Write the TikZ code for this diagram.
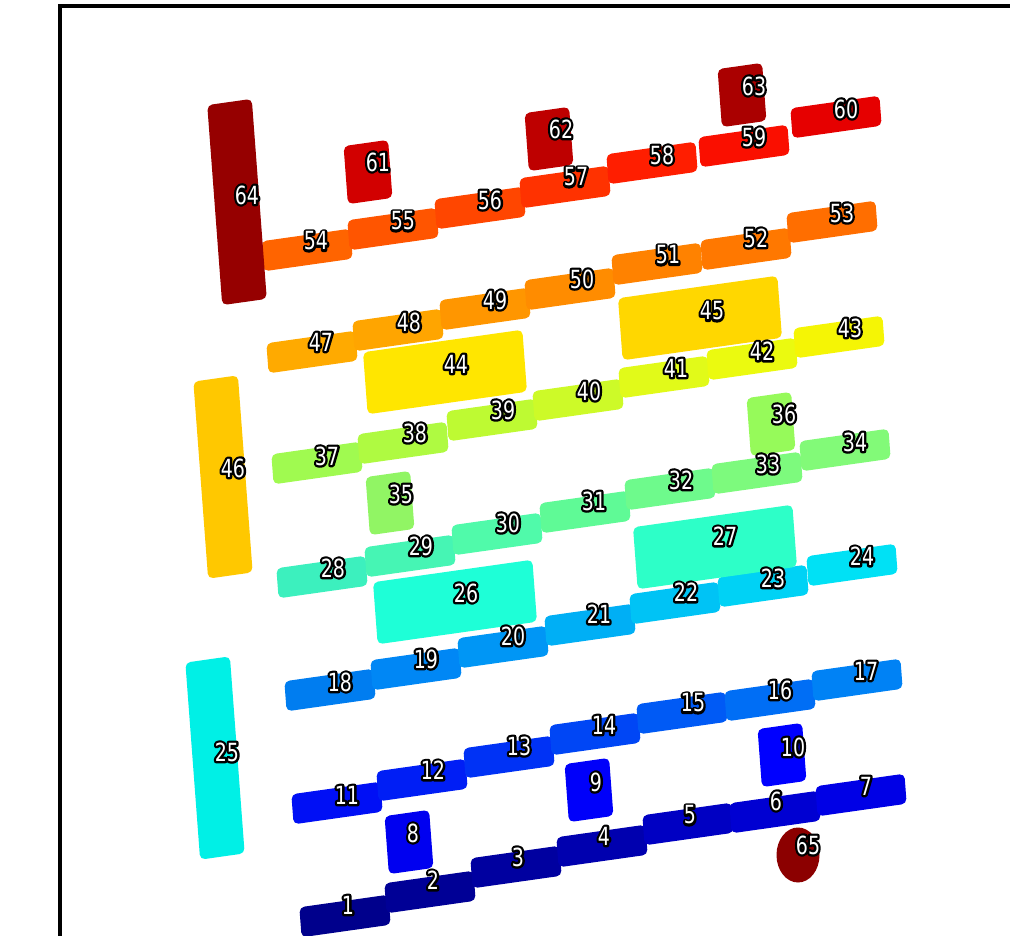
\documentclass[tikz,border=0pt]{standalone}
\usepackage{fontspec}
\usepackage{tikz}
\usetikzlibrary{shapes.geometric}
\newfontfamily\numfont[FakeStretch=0.76]{DejaVu Sans}
% black outline (stroked pass) under the white digits
\newcommand{\nr}[1]{\rlap{\special{pdf:literal direct 0 0 0 RG 4.6 w 1 j 1 Tr}#1\special{pdf:literal direct 0 Tr}}#1}

% jet-like fills, one per block
\definecolor{c1}{RGB}{0,0,140}   \definecolor{c2}{RGB}{0,0,150}   \definecolor{c3}{RGB}{0,0,160}
\definecolor{c4}{RGB}{0,0,175}   \definecolor{c5}{RGB}{0,0,195}   \definecolor{c6}{RGB}{0,0,210}
\definecolor{c7}{RGB}{0,0,230}   \definecolor{c8}{RGB}{0,0,240}   \definecolor{c9}{RGB}{0,0,250}
\definecolor{c10}{RGB}{0,0,255}  \definecolor{c11}{RGB}{0,15,245} \definecolor{c12}{RGB}{0,30,245}
\definecolor{c13}{RGB}{0,50,245} \definecolor{c14}{RGB}{0,70,245} \definecolor{c15}{RGB}{0,90,245}
\definecolor{c16}{RGB}{0,110,245} \definecolor{c17}{RGB}{0,130,245} \definecolor{c18}{RGB}{0,125,240}
\definecolor{c19}{RGB}{0,135,245} \definecolor{c20}{RGB}{0,150,245} \definecolor{c21}{RGB}{0,175,245}
\definecolor{c22}{RGB}{0,195,245} \definecolor{c23}{RGB}{0,210,245} \definecolor{c24}{RGB}{0,225,245}
\definecolor{c25}{RGB}{0,240,230} \definecolor{c26}{RGB}{30,255,215} \definecolor{c27}{RGB}{45,255,200}
\definecolor{c28}{RGB}{60,240,190} \definecolor{c29}{RGB}{70,245,180} \definecolor{c30}{RGB}{80,250,170}
\definecolor{c31}{RGB}{95,250,150} \definecolor{c32}{RGB}{110,250,140} \definecolor{c33}{RGB}{125,250,125}
\definecolor{c34}{RGB}{130,250,120} \definecolor{c35}{RGB}{145,245,100} \definecolor{c36}{RGB}{150,250,90}
\definecolor{c37}{RGB}{160,250,80} \definecolor{c38}{RGB}{175,250,65} \definecolor{c39}{RGB}{190,250,50}
\definecolor{c40}{RGB}{205,250,40} \definecolor{c41}{RGB}{225,250,25} \definecolor{c42}{RGB}{235,250,15}
\definecolor{c43}{RGB}{245,245,5} \definecolor{c44}{RGB}{255,230,0} \definecolor{c45}{RGB}{255,215,0}
\definecolor{c46}{RGB}{255,200,0} \definecolor{c47}{RGB}{255,170,0} \definecolor{c48}{RGB}{255,165,0}
\definecolor{c49}{RGB}{255,150,0} \definecolor{c50}{RGB}{255,140,0} \definecolor{c51}{RGB}{255,130,0}
\definecolor{c52}{RGB}{255,120,0} \definecolor{c53}{RGB}{255,110,0} \definecolor{c54}{RGB}{255,100,0}
\definecolor{c55}{RGB}{255,85,0}  \definecolor{c56}{RGB}{255,70,0}  \definecolor{c57}{RGB}{255,50,0}
\definecolor{c58}{RGB}{255,30,0}  \definecolor{c59}{RGB}{250,15,0}  \definecolor{c60}{RGB}{230,0,0}
\definecolor{c61}{RGB}{210,0,0}   \definecolor{c62}{RGB}{190,0,0}   \definecolor{c63}{RGB}{170,0,0}
\definecolor{c64}{RGB}{150,0,0}   \definecolor{c65}{RGB}{140,0,0}

\begin{document}
\begin{tikzpicture}[
        x=1pt, y=-1pt,
        blk/.style={draw=none, rounded corners=5pt, inner sep=0pt, xslant=-0.075, yslant=0.14},
        bar/.style={blk, minimum width=90pt, minimum height=30pt},
        cube/.style={blk, minimum width=45pt, minimum height=58pt},
        post/.style={blk, minimum width=45pt, minimum height=197pt},
        slab/.style={blk, minimum width=161pt, minimum height=62pt},
        ball/.style={ellipse, draw=none, inner sep=0pt, minimum width=43pt, minimum height=55pt},
        num/.style={text=white, font=\numfont\fontsize{25}{25}\selectfont, inner sep=0pt}
    ]
    \useasboundingbox (0,0) rectangle (1010,936);
    \fill[white] (0,0) rectangle (1010,936);
    \draw[line width=4.5pt] (60,940) -- (60,6) -- (1014,6);

    % blocks
    \node[ball, fill=c65] (b65) at (798,855) {};
    \node[bar, fill=c1] (b1) at (345,916) {};
    \node[bar, fill=c2] (b2) at (430,892) {};
    \node[bar, fill=c3] (b3) at (516,867) {};
    \node[bar, fill=c4] (b4) at (602,846) {};
    \node[bar, fill=c5] (b5) at (688,824) {};
    \node[bar, fill=c6] (b6) at (775,812) {};
    \node[bar, fill=c7] (b7) at (861,795) {};
    \node[cube, fill=c8] (b8) at (409,842) {};
    \node[cube, fill=c9] (b9) at (589,790) {};
    \node[cube, fill=c10] (b10) at (782,755) {};
    \node[bar, fill=c11] (b11) at (337,803) {};
    \node[bar, fill=c12] (b12) at (422,780) {};
    \node[bar, fill=c13] (b13) at (509,757) {};
    \node[bar, fill=c14] (b14) at (595,734) {};
    \node[bar, fill=c15] (b15) at (682,713) {};
    \node[bar, fill=c16] (b16) at (770,700) {};
    \node[bar, fill=c17] (b17) at (857,680) {};
    \node[bar, fill=c18] (b18) at (330,690) {};
    \node[bar, fill=c19] (b19) at (416,669) {};
    \node[bar, fill=c20] (b20) at (503,647) {};
    \node[bar, fill=c21] (b21) at (590,625) {};
    \node[bar, fill=c22] (b22) at (675,603) {};
    \node[bar, fill=c23] (b23) at (763,586) {};
    \node[bar, fill=c24] (b24) at (852,565) {};
    \node[post, fill=c25] (b25) at (215,758) {};
    \node[slab, fill=c26] (b26) at (455,602) {};
    \node[slab, fill=c27] (b27) at (715,547) {};
    \node[bar, fill=c28] (b28) at (322,577) {};
    \node[bar, fill=c29] (b29) at (410,556) {};
    \node[bar, fill=c30] (b30) at (497,534) {};
    \node[bar, fill=c31] (b31) at (585,512) {};
    \node[bar, fill=c32] (b32) at (670,489) {};
    \node[bar, fill=c33] (b33) at (757,473) {};
    \node[bar, fill=c34] (b34) at (845,450) {};
    \node[cube, fill=c35] (b35) at (390,503) {};
    \node[cube, fill=c36] (b36) at (771,424) {};
    \node[bar, fill=c37] (b37) at (317,463) {};
    \node[bar, fill=c38] (b38) at (403,443) {};
    \node[bar, fill=c39] (b39) at (492,420) {};
    \node[bar, fill=c40] (b40) at (578,400) {};
    \node[bar, fill=c41] (b41) at (664,377) {};
    \node[bar, fill=c42] (b42) at (752,359) {};
    \node[bar, fill=c43] (b43) at (839,337) {};
    \node[bar, fill=c47] (b47) at (312,352) {};
    \node[bar, fill=c48] (b48) at (398,330) {};
    \node[bar, fill=c49] (b49) at (485,309) {};
    \node[bar, fill=c50] (b50) at (570,289) {};
    \node[bar, fill=c51] (b51) at (657,264) {};
    \node[bar, fill=c52] (b52) at (746,249) {};
    \node[bar, fill=c53] (b53) at (832,222) {};
    \node[slab, fill=c44] (b44) at (445,372) {};
    \node[slab, fill=c45] (b45) at (700,318) {};
    \node[post, fill=c46] (b46) at (223,477) {};
    \node[bar, fill=c54] (b54) at (307,250) {};
    \node[bar, fill=c55] (b55) at (393,229) {};
    \node[bar, fill=c56] (b56) at (480,208) {};
    \node[bar, fill=c57] (b57) at (565,187) {};
    \node[bar, fill=c58] (b58) at (652,163) {};
    \node[bar, fill=c59] (b59) at (744,146) {};
    \node[bar, fill=c60] (b60) at (836,117) {};
    \node[cube, fill=c61] (b61) at (368,172) {};
    \node[cube, fill=c62] (b62) at (549,139) {};
    \node[cube, fill=c63] (b63) at (742,95) {};
    \node[post, fill=c64, minimum height=200pt] (b64) at (237,202) {};

    % numbers
    \node[num] (n1) at (348,905) {\nr{1}};
    \node[num] (n2) at (433,880) {\nr{2}};
    \node[num] (n3) at (518,857) {\nr{3}};
    \node[num] (n4) at (604,836) {\nr{4}};
    \node[num] (n5) at (690,815) {\nr{5}};
    \node[num] (n6) at (776,801) {\nr{6}};
    \node[num] (n7) at (866,786) {\nr{7}};
    \node[num] (n8) at (413,833) {\nr{8}};
    \node[num] (n9) at (596,782) {\nr{9}};
    \node[num] (n10) at (793,747) {\nr{10}};
    \node[num] (n11) at (347,795) {\nr{11}};
    \node[num] (n12) at (433,770) {\nr{12}};
    \node[num] (n13) at (519,746) {\nr{13}};
    \node[num] (n14) at (604,725) {\nr{14}};
    \node[num] (n15) at (693,703) {\nr{15}};
    \node[num] (n16) at (780,690) {\nr{16}};
    \node[num] (n17) at (866,671) {\nr{17}};
    \node[num] (n18) at (340,682) {\nr{18}};
    \node[num] (n19) at (426,659) {\nr{19}};
    \node[num] (n20) at (513,636) {\nr{20}};
    \node[num] (n21) at (599,614) {\nr{21}};
    \node[num] (n22) at (686,592) {\nr{22}};
    \node[num] (n23) at (773,578) {\nr{23}};
    \node[num] (n24) at (862,556) {\nr{24}};
    \node[num] (n25) at (227,752) {\nr{25}};
    \node[num] (n26) at (466,593) {\nr{26}};
    \node[num] (n27) at (725,536) {\nr{27}};
    \node[num] (n28) at (333,568) {\nr{28}};
    \node[num] (n29) at (421,546) {\nr{29}};
    \node[num] (n30) at (508,523) {\nr{30}};
    \node[num] (n31) at (594,501) {\nr{31}};
    \node[num] (n32) at (681,480) {\nr{32}};
    \node[num] (n33) at (768,464) {\nr{33}};
    \node[num] (n34) at (855,442) {\nr{34}};
    \node[num] (n35) at (401,494) {\nr{35}};
    \node[num] (n36) at (784,414) {\nr{36}};
    \node[num] (n37) at (327,456) {\nr{37}};
    \node[num] (n38) at (415,433) {\nr{38}};
    \node[num] (n39) at (503,410) {\nr{39}};
    \node[num] (n40) at (589,391) {\nr{40}};
    \node[num] (n41) at (676,368) {\nr{41}};
    \node[num] (n42) at (762,351) {\nr{42}};
    \node[num] (n43) at (850,328) {\nr{43}};
    \node[num] (n44) at (456,364) {\nr{44}};
    \node[num] (n45) at (712,311) {\nr{45}};
    \node[num] (n46) at (233,468) {\nr{46}};
    \node[num] (n47) at (321,342) {\nr{47}};
    \node[num] (n48) at (409,322) {\nr{48}};
    \node[num] (n49) at (495,300) {\nr{49}};
    \node[num] (n50) at (582,279) {\nr{50}};
    \node[num] (n51) at (668,255) {\nr{51}};
    \node[num] (n52) at (756,238) {\nr{52}};
    \node[num] (n53) at (842,213) {\nr{53}};
    \node[num] (n54) at (316,241) {\nr{54}};
    \node[num] (n55) at (403,221) {\nr{55}};
    \node[num] (n56) at (490,200) {\nr{56}};
    \node[num] (n57) at (576,177) {\nr{57}};
    \node[num] (n58) at (662,155) {\nr{58}};
    \node[num] (n59) at (754,137) {\nr{59}};
    \node[num] (n60) at (846,109) {\nr{60}};
    \node[num] (n61) at (378,162) {\nr{61}};
    \node[num] (n62) at (561,129) {\nr{62}};
    \node[num] (n63) at (754,86) {\nr{63}};
    \node[num] (n64) at (247,195) {\nr{64}};
    \node[num] (n65) at (808,845) {\nr{65}};
\end{tikzpicture}
\end{document}
